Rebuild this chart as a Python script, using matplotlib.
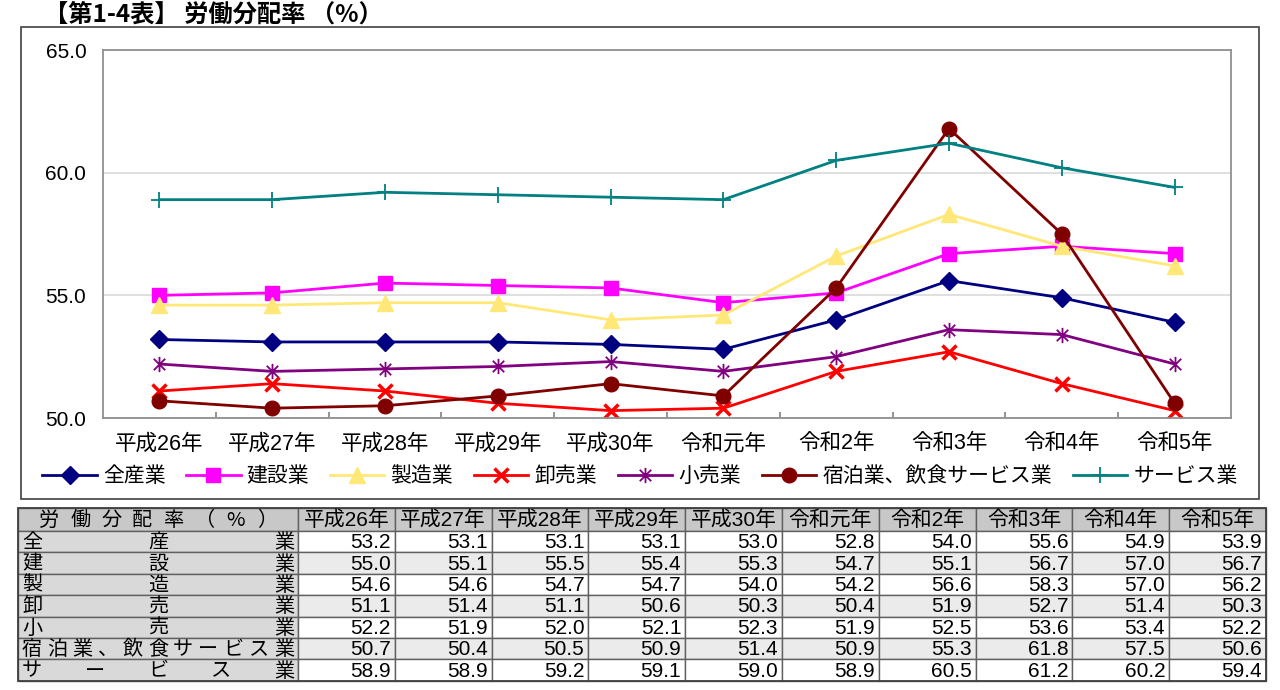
import matplotlib
matplotlib.use('Agg')
import matplotlib.pyplot as plt
from matplotlib.path import Path
from matplotlib.patches import Rectangle
from matplotlib.ticker import FixedLocator
import numpy as np

plt.rcParams['font.family'] = ['Liberation Sans', 'Noto Sans CJK JP']

# data (労働分配率, %)
years = ['平成26年', '平成27年', '平成28年', '平成29年', '平成30年',
         '令和元年', '令和2年', '令和3年', '令和4年', '令和5年']
names = ['全産業', '建設業', '製造業', '卸売業', '小売業',
         '宿泊業、飲食サービス業', 'サービス業']
zensangyo = [53.2, 53.1, 53.1, 53.1, 53.0, 52.8, 54.0, 55.6, 54.9, 53.9]
kensetsu = [55.0, 55.1, 55.5, 55.4, 55.3, 54.7, 55.1, 56.7, 57.0, 56.7]
seizo = [54.6, 54.6, 54.7, 54.7, 54.0, 54.2, 56.6, 58.3, 57.0, 56.2]
oroshi = [51.1, 51.4, 51.1, 50.6, 50.3, 50.4, 51.9, 52.7, 51.4, 50.3]
kouri = [52.2, 51.9, 52.0, 52.1, 52.3, 51.9, 52.5, 53.6, 53.4, 52.2]
shukuhaku = [50.7, 50.4, 50.5, 50.9, 51.4, 50.9, 55.3, 61.8, 57.5, 50.6]
service = [58.9, 58.9, 59.2, 59.1, 59.0, 58.9, 60.5, 61.2, 60.2, 59.4]
series = [zensangyo, kensetsu, seizo, oroshi, kouri, shukuhaku, service]
header_label = '労働分配率（%）'

star = Path([(0, -1), (0, 1), (-0.75, -0.75), (0.75, 0.75), (-0.75, 0.75), (0.75, -0.75)],
            [Path.MOVETO, Path.LINETO, Path.MOVETO, Path.LINETO, Path.MOVETO, Path.LINETO])

styles = [
    dict(color='#000080', marker='D', ms=9),
    dict(color='#FF00FF', marker='s', ms=10),
    dict(color='#FFE878', marker='^', ms=11),
    dict(color='#FF0000', marker='x', ms=9.5, mew=2.5),
    dict(color='#800080', marker=star, ms=11, mew=1.3),
    dict(color='#800000', marker='o', ms=10.5),
    dict(color='#008080', marker='+', ms=12, mew=1.3),
]

W, H = 1280, 690
fig = plt.figure(figsize=(12.8, 6.9), dpi=100)

# overlay axes in pixel units for frame, title and table
bg = fig.add_axes([0, 0, 1, 1])
bg.set_xlim(0, W)
bg.set_ylim(H, 0)
bg.axis('off')
bg.add_patch(Rectangle((21, 27), 1238, 472, fill=False, ec='#404040', lw=1.2))
bg.text(44, 15, '【第1-4表】 労働分配率 （%）', fontsize=17.5, fontweight='bold',
        family=['Noto Sans CJK JP'], ha='left', va='center')

# line chart
ax = fig.add_axes([103 / W, 1 - 418 / H, (1231 - 103) / W, (418 - 50) / H])
x = np.arange(len(years))
handles = []
for vals, st in zip(series, styles):
    h, = ax.plot(x, vals, lw=2, mec=st['color'], **st)
    handles.append(h)
ax.set_xlim(-0.5, len(years) - 0.5)
ax.set_ylim(50, 65)
ax.set_yticks([50, 55, 60, 65])
ax.set_yticklabels(['50.0', '55.0', '60.0', '65.0'])
ax.set_xticks(x)
ax.set_xticklabels(years)
ax.xaxis.set_minor_locator(FixedLocator(np.arange(0.5, len(years) - 1, 1)))
ax.tick_params(axis='x', which='major', length=0, pad=11, labelsize=15.5)
ax.tick_params(axis='x', which='minor', length=4, direction='in', color='#808080', width=1.2)
ax.tick_params(axis='y', length=0, pad=12, labelsize=15)
ax.yaxis.grid(True, color='#d9d9d9', lw=1.2)
ax.set_axisbelow(True)
for sp in ax.spines.values():
    sp.set_color('#909090')
    sp.set_linewidth(1.3)

fig.legend(handles, names, loc='center', bbox_to_anchor=(0.5, 1 - 476 / H), ncol=7,
           frameon=False, handlelength=2.6, columnspacing=1.0, handletextpad=0.3,
           prop={'family': ['Noto Sans CJK JP'], 'size': 15})

# data table
tx0, tx1 = 18, 298
col_w = (1266 - tx1) / len(years)
ty0 = 508
head_h = 23
row_h = 21.4
line_c = '#606060'


def spread(text, left, right, y, pad, size):
    chars = list(text)
    n = len(chars)
    xs = np.linspace(left + pad, right - pad, n) if n > 1 else [(left + right) / 2]
    for c, xx in zip(chars, xs):
        bg.text(xx, y, c, fontsize=size, ha='center', va='center',
                family=['Noto Sans CJK JP'])


# header row
bg.add_patch(Rectangle((tx0, ty0), tx1 - tx0, head_h, fc='#c8c8c8', ec=line_c, lw=1))
spread(header_label, tx0, tx1, ty0 + head_h / 2 + 1, 31, 14.5)
for j, yr in enumerate(years):
    cx = tx1 + j * col_w
    bg.add_patch(Rectangle((cx, ty0), col_w, head_h, fc='#c8c8c8', ec=line_c, lw=1))
    bg.text(cx + col_w / 2, ty0 + head_h / 2 + 1, yr, fontsize=15, ha='center', va='center')

for i, (name, vals) in enumerate(zip(names, series)):
    ry = ty0 + head_h + i * row_h
    fc = '#ebebeb' if i % 2 == 1 else 'white'
    bg.add_patch(Rectangle((tx0, ry), tx1 - tx0, row_h, fc='#d9d9d9', ec=line_c, lw=1))
    spread(name, tx0, tx1, ry + row_h / 2 + 1, 14, 14.5)
    for j, v in enumerate(vals):
        cx = tx1 + j * col_w
        bg.add_patch(Rectangle((cx, ry), col_w, row_h, fc=fc, ec=line_c, lw=1))
        bg.text(cx + col_w - 4, ry + row_h / 2 + 1, f'{v:.1f}', fontsize=15,
                ha='right', va='center')

bg.add_patch(Rectangle((tx0, ty0), 1266 - tx0, head_h + row_h * len(names),
                       fill=False, ec='#404040', lw=1.3))

fig.savefig('out.png', dpi=100)
